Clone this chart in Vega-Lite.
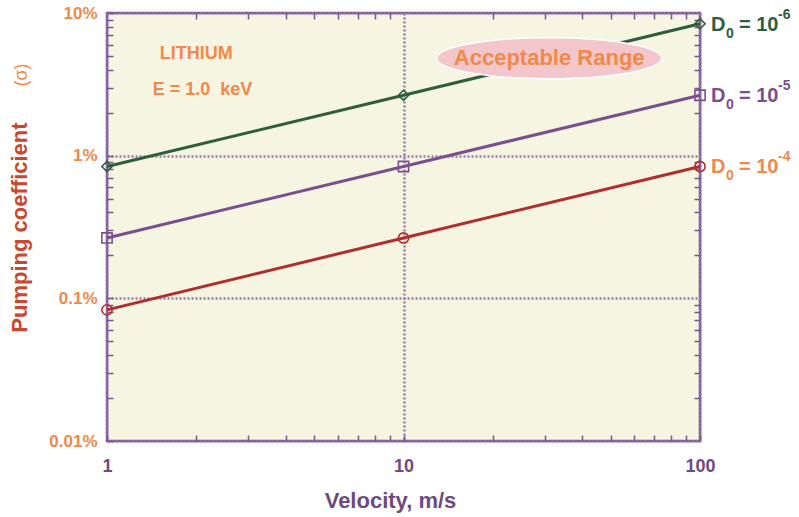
{
  "$schema": "https://vega.github.io/schema/vega-lite/v6.json",
  "width": 593,
  "height": 428,
  "autosize": "none",
  "padding": {"left": 107, "top": 13, "right": 99, "bottom": 76},
  "background": "white",
  "config": {
    "view": {"fill": "#F5F5E2", "stroke": "#785890", "strokeWidth": 2.5},
    "font": "Liberation Sans",
    "text": {"font": "Liberation Sans", "fontWeight": "bold"}
  },
  "datasets": {
    "curves": [
      {"series": "1e-6", "v": 1, "p": 0.84, "exp": "-6"},
      {"series": "1e-6", "v": 10, "p": 2.65, "exp": "-6"},
      {"series": "1e-6", "v": 100, "p": 8.4, "exp": "-6"},
      {"series": "1e-5", "v": 1, "p": 0.265, "exp": "-5"},
      {"series": "1e-5", "v": 10, "p": 0.84, "exp": "-5"},
      {"series": "1e-5", "v": 100, "p": 2.65, "exp": "-5"},
      {"series": "1e-4", "v": 1, "p": 0.083, "exp": "-4"},
      {"series": "1e-4", "v": 10, "p": 0.265, "exp": "-4"},
      {"series": "1e-4", "v": 100, "p": 0.84, "exp": "-4"}
    ],
    "notes": [
      {"kind": "ellipse", "v": 31, "p": 4.82, "text": "Acceptable Range"},
      {"kind": "note", "v": 2.0, "p": 5.2, "text": "LITHIUM"},
      {"kind": "note", "v": 2.1, "p": 2.89, "text": "E = 1.0\u00a0 keV"},
      {"kind": "sigma", "v": 1, "p": 3.68, "text": "(σ)"}
    ]
  },
  "resolve": {"axis": {"x": "independent", "y": "independent"}},
  "layer": [
    {
      "data": {"name": "curves"},
      "mark": {"type": "line", "strokeWidth": 3},
      "encoding": {
        "x": {"field": "v", "type": "quantitative", "scale": {"type": "log", "domain": [1, 100]}, "axis": null},
        "y": {"field": "p", "type": "quantitative", "scale": {"type": "log", "domain": [0.01, 10]}, "axis": null},
        "color": {"field": "series", "type": "nominal", "legend": null, "scale": {"domain": ["1e-6", "1e-5", "1e-4"], "range": ["#2E5E3E", "#7B4F8E", "#B02E2E"]}}
      }
    },
    {
      "data": {"name": "curves"},
      "mark": {"type": "point", "filled": false, "strokeWidth": 1.6, "size": 105, "opacity": 1},
      "encoding": {
        "x": {"field": "v", "type": "quantitative",
          "axis": {"orient": "top", "values": [2, 3, 4, 5, 6, 7, 8, 9, 20, 30, 40, 50, 60, 70, 80, 90], "labels": false, "grid": false, "domain": false, "title": "",
            "ticks": true, "tickSize": -6, "tickColor": "#785890", "tickWidth": 1.5}},
        "y": {"field": "p", "type": "quantitative",
          "axis": {"orient": "right", "values": [0.02, 0.03, 0.04, 0.05, 0.06, 0.07, 0.08, 0.09, 0.2, 0.3, 0.4, 0.5, 0.6, 0.7, 0.8, 0.9, 2, 3, 4, 5, 6, 7, 8, 9], "labels": false, "grid": false, "domain": false, "title": "",
            "ticks": true, "tickSize": -6, "tickColor": "#785890", "tickWidth": 1.5}},
        "color": {"field": "series", "type": "nominal", "legend": null},
        "shape": {"field": "series", "type": "nominal", "legend": null, "scale": {"domain": ["1e-6", "1e-5", "1e-4"], "range": ["diamond", "square", "circle"]}}
      }
    },
    {
      "data": {"name": "notes"},
      "transform": [{"filter": "datum.kind == 'ellipse'"}],
      "mark": {"type": "point", "shape": "M-1,0A1,0.182,0,1,0,1,0A1,0.182,0,1,0,-1,0Z", "size": 50625, "filled": true, "fill": "#F2C6CB", "stroke": "white", "strokeWidth": 1.5, "opacity": 1},
      "encoding": {
        "x": {"field": "v", "type": "quantitative",
          "axis": {"orient": "bottom", "values": [1, 2, 3, 4, 5, 6, 7, 8, 9, 10, 20, 30, 40, 50, 60, 70, 80, 90, 100],
            "labelExpr": "(datum.value == 1 || datum.value == 10 || datum.value == 100) ? format(datum.value, 'd') : ''", "labelFlush": false,
            "grid": true, "gridColor": "#9A78B0", "gridDash": [2, 2], "gridWidth": 2.5,
            "gridOpacity": {"condition": {"test": "datum.value == 1 || datum.value == 10 || datum.value == 100", "value": 1}, "value": 0},
            "ticks": true, "tickSize": -6, "tickColor": "#785890", "tickWidth": 1.5, "domain": false,
            "labelFont": "Liberation Sans", "labelFontSize": 18, "labelFontWeight": "bold", "labelColor": "#6E4A80", "labelPadding": 22,
            "title": "Velocity, m/s", "titleFont": "Liberation Sans", "titleFontSize": 22, "titleFontWeight": "bold", "titleColor": "#6E4A80", "titlePadding": 15,
            "titleX": 283, "titleAlign": "center", "titleAnchor": null}},
        "y": {"field": "p", "type": "quantitative",
          "axis": {"orient": "left", "values": [0.01, 0.02, 0.03, 0.04, 0.05, 0.06, 0.07, 0.08, 0.09, 0.1, 0.2, 0.3, 0.4, 0.5, 0.6, 0.7, 0.8, 0.9, 1, 2, 3, 4, 5, 6, 7, 8, 9, 10],
            "labelExpr": "(datum.value == 0.01 || datum.value == 0.1 || datum.value == 1 || datum.value == 10) ? datum.value + '%' : ''", "labelFlush": false,
            "grid": true, "gridColor": "#9A78B0", "gridDash": [2, 2], "gridWidth": 2.5,
            "gridOpacity": {"condition": {"test": "datum.value == 0.01 || datum.value == 0.1 || datum.value == 1 || datum.value == 10", "value": 1}, "value": 0},
            "ticks": true, "tickSize": -6, "tickColor": "#785890", "tickWidth": 1.5, "domain": false,
            "labelFont": "Liberation Sans", "labelFontSize": 17, "labelFontWeight": "bold", "labelColor": "#F0894A", "labelPadding": 16,
            "title": "Pumping coefficient", "titleFont": "Liberation Sans", "titleFontSize": 22, "titleFontWeight": "bold", "titleColor": "#C9472E", "titlePadding": 17}}
      }
    },
    {
      "data": {"name": "notes"},
      "transform": [{"filter": "datum.kind == 'ellipse'"}],
      "mark": {"type": "text", "fontSize": 22, "color": "#F0894A", "align": "center", "baseline": "middle"},
      "encoding": {
        "x": {"field": "v", "type": "quantitative", "axis": null},
        "y": {"field": "p", "type": "quantitative", "axis": null},
        "text": {"field": "text"}
      }
    },
    {
      "data": {"name": "notes"},
      "transform": [{"filter": "datum.kind == 'note'"}],
      "mark": {"type": "text", "fontSize": 18, "color": "#F0894A", "align": "center", "baseline": "middle"},
      "encoding": {
        "x": {"field": "v", "type": "quantitative", "axis": null},
        "y": {"field": "p", "type": "quantitative", "axis": null},
        "text": {"field": "text"}
      }
    },
    {
      "data": {"name": "notes"},
      "transform": [{"filter": "datum.kind == 'sigma'"}],
      "mark": {"type": "text", "fontSize": 18, "fontWeight": "normal", "color": "#F0894A", "align": "center", "baseline": "middle", "angle": 270, "dy": -85},
      "encoding": {
        "x": {"field": "v", "type": "quantitative", "axis": null},
        "y": {"field": "p", "type": "quantitative", "axis": null},
        "text": {"field": "text"}
      }
    },
    {
      "data": {"name": "curves"},
      "transform": [{"filter": "datum.v == 100"}],
      "mark": {"type": "text", "fontSize": 20, "align": "left", "baseline": "middle", "dx": 11, "dy": 1},
      "encoding": {
        "x": {"field": "v", "type": "quantitative", "axis": null},
        "y": {"field": "p", "type": "quantitative", "axis": null},
        "text": {"value": "D"},
        "color": {"condition": [{"test": "datum.series == '1e-6'", "value": "#2E5E3E"}, {"test": "datum.series == '1e-5'", "value": "#7B4F8E"}], "value": "#F0894A"}
      }
    },
    {
      "data": {"name": "curves"},
      "transform": [{"filter": "datum.v == 100"}],
      "mark": {"type": "text", "fontSize": 14, "align": "left", "baseline": "middle", "dx": 26, "dy": 10},
      "encoding": {
        "x": {"field": "v", "type": "quantitative", "axis": null},
        "y": {"field": "p", "type": "quantitative", "axis": null},
        "text": {"value": "0"},
        "color": {"condition": [{"test": "datum.series == '1e-6'", "value": "#2E5E3E"}, {"test": "datum.series == '1e-5'", "value": "#7B4F8E"}], "value": "#F0894A"}
      }
    },
    {
      "data": {"name": "curves"},
      "transform": [{"filter": "datum.v == 100"}],
      "mark": {"type": "text", "fontSize": 20, "align": "left", "baseline": "middle", "dx": 39, "dy": 1},
      "encoding": {
        "x": {"field": "v", "type": "quantitative", "axis": null},
        "y": {"field": "p", "type": "quantitative", "axis": null},
        "text": {"value": "= 10"},
        "color": {"condition": [{"test": "datum.series == '1e-6'", "value": "#2E5E3E"}, {"test": "datum.series == '1e-5'", "value": "#7B4F8E"}], "value": "#F0894A"}
      }
    },
    {
      "data": {"name": "curves"},
      "transform": [{"filter": "datum.v == 100"}],
      "mark": {"type": "text", "fontSize": 14, "align": "left", "baseline": "middle", "dx": 78, "dy": -9},
      "encoding": {
        "x": {"field": "v", "type": "quantitative", "axis": null},
        "y": {"field": "p", "type": "quantitative", "axis": null},
        "text": {"field": "exp"},
        "color": {"condition": [{"test": "datum.series == '1e-6'", "value": "#2E5E3E"}, {"test": "datum.series == '1e-5'", "value": "#7B4F8E"}], "value": "#F0894A"}
      }
    }
  ]
}
